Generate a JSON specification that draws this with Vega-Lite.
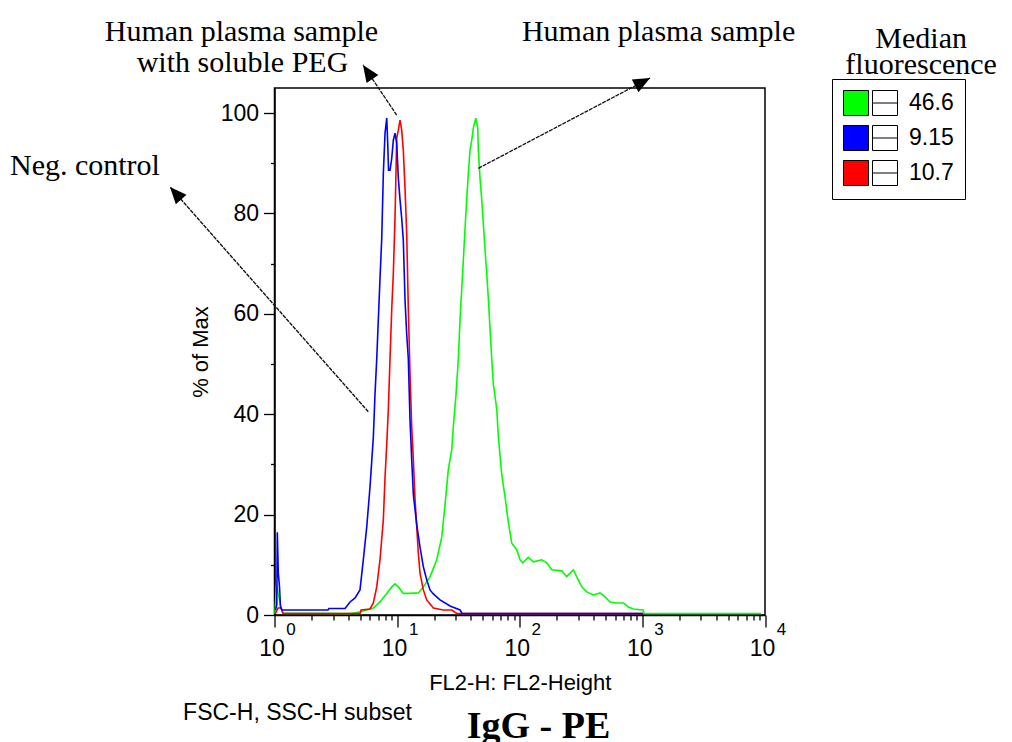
{
  "$schema": "https://vega.github.io/schema/vega-lite/v6.json",
  "width": 490.5,
  "height": 527,
  "autosize": {"type": "none"},
  "padding": {"left": 274.5, "top": 88, "right": 247, "bottom": 127},
  "background": "white",
  "config": {
    "view": {"stroke": "black", "strokeWidth": 1.5},
    "axis": {"domainColor": "black", "domainWidth": 1.5, "tickColor": "black", "tickWidth": 1.3, "labelColor": "black", "titleColor": "black", "labelFont": "Liberation Sans", "titleFont": "Liberation Sans", "grid": false}
  },
  "datasets": {
    "histograms": [
      {"median": "46.6", "fl2": 1.009, "pct": 0.3},
      {"median": "46.6", "fl2": 1.038, "pct": 6},
      {"median": "46.6", "fl2": 1.068, "pct": 4.5},
      {"median": "46.6", "fl2": 1.098, "pct": 3},
      {"median": "46.6", "fl2": 1.130, "pct": 1.4},
      {"median": "46.6", "fl2": 1.173, "pct": 0.4},
      {"median": "46.6", "fl2": 4.13, "pct": 0.3},
      {"median": "46.6", "fl2": 4.98, "pct": 0.6},
      {"median": "46.6", "fl2": 5.65, "pct": 1},
      {"median": "46.6", "fl2": 6.40, "pct": 1.4},
      {"median": "46.6", "fl2": 7.25, "pct": 2.6},
      {"median": "46.6", "fl2": 8.23, "pct": 4.3},
      {"median": "46.6", "fl2": 9.04, "pct": 5.6},
      {"median": "46.6", "fl2": 9.61, "pct": 6.2},
      {"median": "46.6", "fl2": 10.23, "pct": 5.6},
      {"median": "46.6", "fl2": 11.23, "pct": 4.3},
      {"median": "46.6", "fl2": 12.74, "pct": 4.3},
      {"median": "46.6", "fl2": 14.89, "pct": 4.4},
      {"median": "46.6", "fl2": 16.36, "pct": 5.6},
      {"median": "46.6", "fl2": 18.55, "pct": 7.6},
      {"median": "46.6", "fl2": 21.04, "pct": 11},
      {"median": "46.6", "fl2": 23.11, "pct": 15.5},
      {"median": "46.6", "fl2": 24.59, "pct": 22},
      {"median": "46.6", "fl2": 26.16, "pct": 29},
      {"median": "46.6", "fl2": 27.89, "pct": 33},
      {"median": "46.6", "fl2": 28.73, "pct": 37.5},
      {"median": "46.6", "fl2": 30.23, "pct": 44},
      {"median": "46.6", "fl2": 31.57, "pct": 51},
      {"median": "46.6", "fl2": 32.60, "pct": 59},
      {"median": "46.6", "fl2": 33.65, "pct": 65},
      {"median": "46.6", "fl2": 34.67, "pct": 70.7},
      {"median": "46.6", "fl2": 35.79, "pct": 77},
      {"median": "46.6", "fl2": 36.96, "pct": 83},
      {"median": "46.6", "fl2": 38.09, "pct": 88},
      {"median": "46.6", "fl2": 39.32, "pct": 92.6},
      {"median": "46.6", "fl2": 40.60, "pct": 94.6},
      {"median": "46.6", "fl2": 41.83, "pct": 97},
      {"median": "46.6", "fl2": 43.76, "pct": 99},
      {"median": "46.6", "fl2": 45.44, "pct": 97},
      {"median": "46.6", "fl2": 45.95, "pct": 92.6},
      {"median": "46.6", "fl2": 47.45, "pct": 87},
      {"median": "46.6", "fl2": 48.98, "pct": 82.7},
      {"median": "46.6", "fl2": 50.48, "pct": 78},
      {"median": "46.6", "fl2": 52.12, "pct": 72.7},
      {"median": "46.6", "fl2": 53.81, "pct": 68},
      {"median": "46.6", "fl2": 55.45, "pct": 63},
      {"median": "46.6", "fl2": 57.25, "pct": 57},
      {"median": "46.6", "fl2": 59.11, "pct": 51},
      {"median": "46.6", "fl2": 60.93, "pct": 46},
      {"median": "46.6", "fl2": 64.94, "pct": 41},
      {"median": "46.6", "fl2": 66.92, "pct": 35.5},
      {"median": "46.6", "fl2": 71.34, "pct": 28},
      {"median": "46.6", "fl2": 75.89, "pct": 23.5},
      {"median": "46.6", "fl2": 80.72, "pct": 18.5},
      {"median": "46.6", "fl2": 86.04, "pct": 14.3},
      {"median": "46.6", "fl2": 94.52, "pct": 13},
      {"median": "46.6", "fl2": 100.6, "pct": 11},
      {"median": "46.6", "fl2": 105.8, "pct": 10.4},
      {"median": "46.6", "fl2": 117.5, "pct": 11.5},
      {"median": "46.6", "fl2": 129.1, "pct": 10.6},
      {"median": "46.6", "fl2": 151.2, "pct": 11},
      {"median": "46.6", "fl2": 166.1, "pct": 10.4},
      {"median": "46.6", "fl2": 182.4, "pct": 9},
      {"median": "46.6", "fl2": 220.1, "pct": 8.8},
      {"median": "46.6", "fl2": 241.8, "pct": 7.6},
      {"median": "46.6", "fl2": 249.2, "pct": 8},
      {"median": "46.6", "fl2": 273.6, "pct": 9},
      {"median": "46.6", "fl2": 291.7, "pct": 7.6},
      {"median": "46.6", "fl2": 320.3, "pct": 5.6},
      {"median": "46.6", "fl2": 352.0, "pct": 4.6},
      {"median": "46.6", "fl2": 398.4, "pct": 4},
      {"median": "46.6", "fl2": 451.9, "pct": 4.4},
      {"median": "46.6", "fl2": 496.4, "pct": 3.6},
      {"median": "46.6", "fl2": 545.2, "pct": 2.6},
      {"median": "46.6", "fl2": 618.2, "pct": 2.4},
      {"median": "46.6", "fl2": 699.8, "pct": 2.4},
      {"median": "46.6", "fl2": 768.8, "pct": 1.6},
      {"median": "46.6", "fl2": 844.7, "pct": 1.2},
      {"median": "46.6", "fl2": 1013, "pct": 1},
      {"median": "46.6", "fl2": 1032, "pct": 0.3},
      {"median": "46.6", "fl2": 9295, "pct": 0.3},
      {"median": "10.7", "fl2": 1.019, "pct": 0.3},
      {"median": "10.7", "fl2": 1.068, "pct": 1.4},
      {"median": "10.7", "fl2": 1.130, "pct": 1.4},
      {"median": "10.7", "fl2": 1.173, "pct": 0.3},
      {"median": "10.7", "fl2": 4.98, "pct": 0.3},
      {"median": "10.7", "fl2": 5.08, "pct": 1},
      {"median": "10.7", "fl2": 6.01, "pct": 1.2},
      {"median": "10.7", "fl2": 6.40, "pct": 2.4},
      {"median": "10.7", "fl2": 6.82, "pct": 5.6},
      {"median": "10.7", "fl2": 7.25, "pct": 11},
      {"median": "10.7", "fl2": 7.72, "pct": 19},
      {"median": "10.7", "fl2": 7.97, "pct": 27.5},
      {"median": "10.7", "fl2": 8.23, "pct": 34},
      {"median": "10.7", "fl2": 8.48, "pct": 41},
      {"median": "10.7", "fl2": 8.75, "pct": 51},
      {"median": "10.7", "fl2": 9.04, "pct": 61},
      {"median": "10.7", "fl2": 9.31, "pct": 68},
      {"median": "10.7", "fl2": 9.61, "pct": 79},
      {"median": "10.7", "fl2": 9.92, "pct": 95},
      {"median": "10.7", "fl2": 10.23, "pct": 96.6},
      {"median": "10.7", "fl2": 10.56, "pct": 98.6},
      {"median": "10.7", "fl2": 10.90, "pct": 96.6},
      {"median": "10.7", "fl2": 11.23, "pct": 92.6},
      {"median": "10.7", "fl2": 11.60, "pct": 85},
      {"median": "10.7", "fl2": 11.97, "pct": 76},
      {"median": "10.7", "fl2": 12.34, "pct": 61},
      {"median": "10.7", "fl2": 12.74, "pct": 48},
      {"median": "10.7", "fl2": 13.15, "pct": 37.5},
      {"median": "10.7", "fl2": 13.56, "pct": 31},
      {"median": "10.7", "fl2": 14.00, "pct": 23},
      {"median": "10.7", "fl2": 14.45, "pct": 17.6},
      {"median": "10.7", "fl2": 14.89, "pct": 12.3},
      {"median": "10.7", "fl2": 15.38, "pct": 8.3},
      {"median": "10.7", "fl2": 16.36, "pct": 5},
      {"median": "10.7", "fl2": 17.43, "pct": 3},
      {"median": "10.7", "fl2": 19.74, "pct": 1.4},
      {"median": "10.7", "fl2": 23.82, "pct": 1},
      {"median": "10.7", "fl2": 27.89, "pct": 1},
      {"median": "10.7", "fl2": 30.63, "pct": 0.3},
      {"median": "10.7", "fl2": 1013, "pct": 0.3},
      {"median": "9.15", "fl2": 1.019, "pct": 1},
      {"median": "9.15", "fl2": 1.044, "pct": 2},
      {"median": "9.15", "fl2": 1.054, "pct": 16.5},
      {"median": "9.15", "fl2": 1.074, "pct": 8.4},
      {"median": "9.15", "fl2": 1.098, "pct": 5.6},
      {"median": "9.15", "fl2": 1.119, "pct": 1.6},
      {"median": "9.15", "fl2": 1.151, "pct": 1},
      {"median": "9.15", "fl2": 2.73, "pct": 1},
      {"median": "9.15", "fl2": 2.78, "pct": 1.3},
      {"median": "9.15", "fl2": 3.76, "pct": 1.3},
      {"median": "9.15", "fl2": 4.13, "pct": 2.6},
      {"median": "9.15", "fl2": 4.54, "pct": 3.4},
      {"median": "9.15", "fl2": 4.98, "pct": 5},
      {"median": "9.15", "fl2": 5.30, "pct": 11},
      {"median": "9.15", "fl2": 5.65, "pct": 17.5},
      {"median": "9.15", "fl2": 6.01, "pct": 25.5},
      {"median": "9.15", "fl2": 6.40, "pct": 35.5},
      {"median": "9.15", "fl2": 6.60, "pct": 44},
      {"median": "9.15", "fl2": 6.82, "pct": 51},
      {"median": "9.15", "fl2": 7.03, "pct": 59},
      {"median": "9.15", "fl2": 7.25, "pct": 67},
      {"median": "9.15", "fl2": 7.49, "pct": 75},
      {"median": "9.15", "fl2": 7.72, "pct": 88},
      {"median": "9.15", "fl2": 7.97, "pct": 96},
      {"median": "9.15", "fl2": 8.23, "pct": 99},
      {"median": "9.15", "fl2": 8.38, "pct": 94},
      {"median": "9.15", "fl2": 8.51, "pct": 88.6},
      {"median": "9.15", "fl2": 8.75, "pct": 88.6},
      {"median": "9.15", "fl2": 9.04, "pct": 91},
      {"median": "9.15", "fl2": 9.31, "pct": 94.6},
      {"median": "9.15", "fl2": 9.61, "pct": 96},
      {"median": "9.15", "fl2": 9.92, "pct": 94},
      {"median": "9.15", "fl2": 10.23, "pct": 87},
      {"median": "9.15", "fl2": 10.56, "pct": 82.7},
      {"median": "9.15", "fl2": 10.90, "pct": 79},
      {"median": "9.15", "fl2": 11.23, "pct": 74.7},
      {"median": "9.15", "fl2": 11.60, "pct": 62.7},
      {"median": "9.15", "fl2": 11.97, "pct": 56},
      {"median": "9.15", "fl2": 12.34, "pct": 51},
      {"median": "9.15", "fl2": 12.74, "pct": 38.8},
      {"median": "9.15", "fl2": 13.15, "pct": 31},
      {"median": "9.15", "fl2": 13.56, "pct": 24},
      {"median": "9.15", "fl2": 14.45, "pct": 18},
      {"median": "9.15", "fl2": 15.38, "pct": 13.5},
      {"median": "9.15", "fl2": 16.36, "pct": 9.6},
      {"median": "9.15", "fl2": 17.43, "pct": 7},
      {"median": "9.15", "fl2": 18.55, "pct": 5},
      {"median": "9.15", "fl2": 19.74, "pct": 4.2},
      {"median": "9.15", "fl2": 22.38, "pct": 3},
      {"median": "9.15", "fl2": 27.01, "pct": 1.8},
      {"median": "9.15", "fl2": 32.60, "pct": 1},
      {"median": "9.15", "fl2": 33.84, "pct": 0.3},
      {"median": "9.15", "fl2": 1013, "pct": 0.3}
    ],
    "arrows": [
      {"arrow": "peg", "from_fl2": 9.92, "from_pct": 99.6, "to_fl2": 5.27, "to_pct": 109.6},
      {"arrow": "plasma", "from_fl2": 45.95, "from_pct": 89.0, "to_fl2": 1156, "to_pct": 107.0},
      {"arrow": "neg", "from_fl2": 5.82, "from_pct": 40.5, "to_fl2": 0.1405, "to_pct": 85.3}
    ],
    "labels": [
      {"role": "note", "label": "Human plasma sample", "fl2": 0.538, "pct": 114.3},
      {"role": "note", "label": "with soluble PEG", "fl2": 0.548, "pct": 108.2},
      {"role": "note", "label": "Human plasma sample", "fl2": 1356, "pct": 114.3},
      {"role": "note", "label": "Neg. control", "fl2": 0.02847, "pct": 87.6},
      {"role": "note", "label": "Median", "fl2": 187600, "pct": 113.0},
      {"role": "note", "label": "fluorescence", "fl2": 187600, "pct": 107.8},
      {"role": "gate", "label": "FSC-H, SSC-H subset", "fl2": 1.540, "pct": -20.9},
      {"role": "parameter", "label": "IgG - PE", "fl2": 142.3, "pct": -24.5}
    ]
  },
  "layer": [
    {
      "data": {"name": "histograms"},
      "transform": [{"filter": "datum.median == '46.6'"}],
      "mark": {"type": "line", "strokeWidth": 1.6, "color": "#00ff00"},
      "encoding": {
        "x": {
          "field": "fl2", "type": "quantitative",
          "scale": {"type": "log", "domain": [1, 10000], "nice": false},
          "axis": {
            "orient": "bottom",
            "title": "FL2-H: FL2-Height",
            "values": [1,2,3,4,5,6,7,8,9,10,20,30,40,50,60,70,80,90,100,200,300,400,500,600,700,800,900,1000,2000,3000,4000,5000,6000,7000,8000,9000,10000],
            "labelExpr": "abs(log(datum.value)/LN10 - round(log(datum.value)/LN10)) < 0.000001 ? '10' : ''",
            "tickSize": {"condition": {"test": "abs(log(datum.value)/LN10 - round(log(datum.value)/LN10)) < 0.000001", "value": 12}, "value": 5},
            "labelFontSize": 23,
            "labelPadding": 10,
            "labelOffset": -3,
            "labelOverlap": false,
            "labelFlush": false,
            "titleFontSize": 22,
            "titleFontWeight": "normal",
            "titlePadding": 12
          }
        },
        "y": {
          "field": "pct", "type": "quantitative",
          "scale": {"domain": [0, 105], "nice": false},
          "axis": {
            "orient": "left",
            "title": "% of Max",
            "values": [0,5,10,15,20,25,30,35,40,45,50,55,60,65,70,75,80,85,90,95,100],
            "labelExpr": "datum.value % 20 == 0 ? datum.label : ''",
            "tickSize": {"condition": {"test": "datum.value % 20 == 0", "value": 11}, "value": 4},
            "labelFontSize": 23,
            "labelPadding": 5,
            "labelOverlap": false,
            "labelFlush": false,
            "titleFontSize": 22,
            "titleFontWeight": "normal",
            "titlePadding": 8
          }
        }
      }
    },
    {
      "data": {"name": "histograms"},
      "transform": [{"filter": "datum.median == '10.7'"}],
      "mark": {"type": "line", "strokeWidth": 1.6, "color": "#ff0000"},
      "encoding": {
        "x": {"field": "fl2", "type": "quantitative", "scale": {"type": "log", "domain": [1, 10000], "nice": false}, "axis": null},
        "y": {"field": "pct", "type": "quantitative", "scale": {"domain": [0, 105], "nice": false}}
      }
    },
    {
      "data": {"name": "histograms"},
      "transform": [{"filter": "datum.median == '9.15'"}],
      "mark": {"type": "line", "strokeWidth": 1.6, "color": "#0000ff"},
      "encoding": {
        "x": {"field": "fl2", "type": "quantitative", "scale": {"type": "log", "domain": [1, 10000], "nice": false}, "axis": null},
        "y": {"field": "pct", "type": "quantitative", "scale": {"domain": [0, 105], "nice": false}}
      }
    },
    {
      "data": {"name": "histograms"},
      "transform": [{"filter": "datum.pct < -1000"}],
      "mark": {"type": "point", "filled": true, "stroke": "black", "strokeWidth": 1, "opacity": 1, "shape": "M-1,-1H1V1H-1Z M1.32,-1H3.32 M3.32,-1V1 M3.32,1H1.32 M1.32,1V-1 M1.32,0H3.32"},
      "encoding": {
        "fill": {
          "field": "median", "type": "nominal",
          "scale": {"domain": ["46.6", "9.15", "10.7"], "range": ["#00ff00", "#0000ff", "#ff0000"]},
          "legend": {
            "title": null,
            "orient": "none",
            "legendX": 557.5,
            "legendY": -9,
            "strokeColor": "black",
            "padding": 11,
            "symbolType": "M-1,-1H1V1H-1Z M1.32,-1H3.32 M3.32,-1V1 M3.32,1H1.32 M1.32,1V-1 M1.32,0H3.32",
            "symbolSize": 625,
            "symbolStrokeColor": "black",
            "symbolStrokeWidth": 1,
            "symbolOpacity": 1,
            "labelOffset": 40,
            "labelFont": "Liberation Sans",
            "labelFontSize": 23,
            "labelColor": "black",
            "rowPadding": 5
          }
        }
      }
    },
    {
      "data": {"name": "arrows"},
      "mark": {"type": "rule", "color": "#111111", "strokeWidth": 1.3, "strokeDash": [4, 1]},
      "encoding": {
        "x": {
          "field": "from_fl2", "type": "quantitative",
          "scale": {"type": "log", "domain": [1, 10000], "nice": false},
          "axis": {
            "orient": "bottom",
            "title": null,
            "values": [1, 10, 100, 1000, 10000],
            "labelExpr": "'' + round(log(datum.value)/LN10)",
            "domain": false,
            "ticks": false,
            "labelFontSize": 17,
            "labelPadding": 6,
            "labelOffset": 16,
            "labelOverlap": false,
            "labelFlush": false
          }
        },
        "y": {"field": "from_pct", "type": "quantitative", "scale": {"domain": [0, 105], "nice": false}},
        "x2": {"field": "to_fl2"},
        "y2": {"field": "to_pct"}
      }
    },
    {
      "data": {"name": "arrows"},
      "transform": [{"filter": "datum.arrow == 'peg'"}],
      "mark": {"type": "point", "shape": "M0,0L-0.8,1.9L0.8,1.9Z", "size": 317, "filled": true, "color": "black", "opacity": 1, "angle": 326},
      "encoding": {
        "x": {"field": "to_fl2", "type": "quantitative", "scale": {"type": "log", "domain": [1, 10000], "nice": false}, "axis": null},
        "y": {"field": "to_pct", "type": "quantitative", "scale": {"domain": [0, 105], "nice": false}}
      }
    },
    {
      "data": {"name": "arrows"},
      "transform": [{"filter": "datum.arrow == 'plasma'"}],
      "mark": {"type": "point", "shape": "M0,0L-0.8,1.9L0.8,1.9Z", "size": 317, "filled": true, "color": "black", "opacity": 1, "angle": 62},
      "encoding": {
        "x": {"field": "to_fl2", "type": "quantitative", "scale": {"type": "log", "domain": [1, 10000], "nice": false}, "axis": null},
        "y": {"field": "to_pct", "type": "quantitative", "scale": {"domain": [0, 105], "nice": false}}
      }
    },
    {
      "data": {"name": "arrows"},
      "transform": [{"filter": "datum.arrow == 'neg'"}],
      "mark": {"type": "point", "shape": "M0,0L-0.8,1.9L0.8,1.9Z", "size": 317, "filled": true, "color": "black", "opacity": 1, "angle": 318.6},
      "encoding": {
        "x": {"field": "to_fl2", "type": "quantitative", "scale": {"type": "log", "domain": [1, 10000], "nice": false}, "axis": null},
        "y": {"field": "to_pct", "type": "quantitative", "scale": {"domain": [0, 105], "nice": false}}
      }
    },
    {
      "data": {"name": "labels"},
      "transform": [{"filter": "datum.role == 'note'"}],
      "mark": {"type": "text", "font": "Liberation Serif", "fontSize": 30, "align": "center", "baseline": "alphabetic", "color": "black"},
      "encoding": {
        "x": {"field": "fl2", "type": "quantitative", "scale": {"type": "log", "domain": [1, 10000], "nice": false}, "axis": null},
        "y": {"field": "pct", "type": "quantitative", "scale": {"domain": [0, 105], "nice": false}},
        "text": {"field": "label"}
      }
    },
    {
      "data": {"name": "labels"},
      "transform": [{"filter": "datum.role == 'gate'"}],
      "mark": {"type": "text", "font": "Liberation Sans", "fontSize": 23, "align": "center", "baseline": "alphabetic", "color": "black"},
      "encoding": {
        "x": {"field": "fl2", "type": "quantitative", "scale": {"type": "log", "domain": [1, 10000], "nice": false}, "axis": null},
        "y": {"field": "pct", "type": "quantitative", "scale": {"domain": [0, 105], "nice": false}},
        "text": {"field": "label"}
      }
    },
    {
      "data": {"name": "labels"},
      "transform": [{"filter": "datum.role == 'parameter'"}],
      "mark": {"type": "text", "font": "Liberation Serif", "fontSize": 38, "fontWeight": "bold", "align": "center", "baseline": "alphabetic", "color": "black"},
      "encoding": {
        "x": {"field": "fl2", "type": "quantitative", "scale": {"type": "log", "domain": [1, 10000], "nice": false}, "axis": null},
        "y": {"field": "pct", "type": "quantitative", "scale": {"domain": [0, 105], "nice": false}},
        "text": {"field": "label"}
      }
    }
  ],
  "resolve": {"axis": {"x": "independent"}}
}
